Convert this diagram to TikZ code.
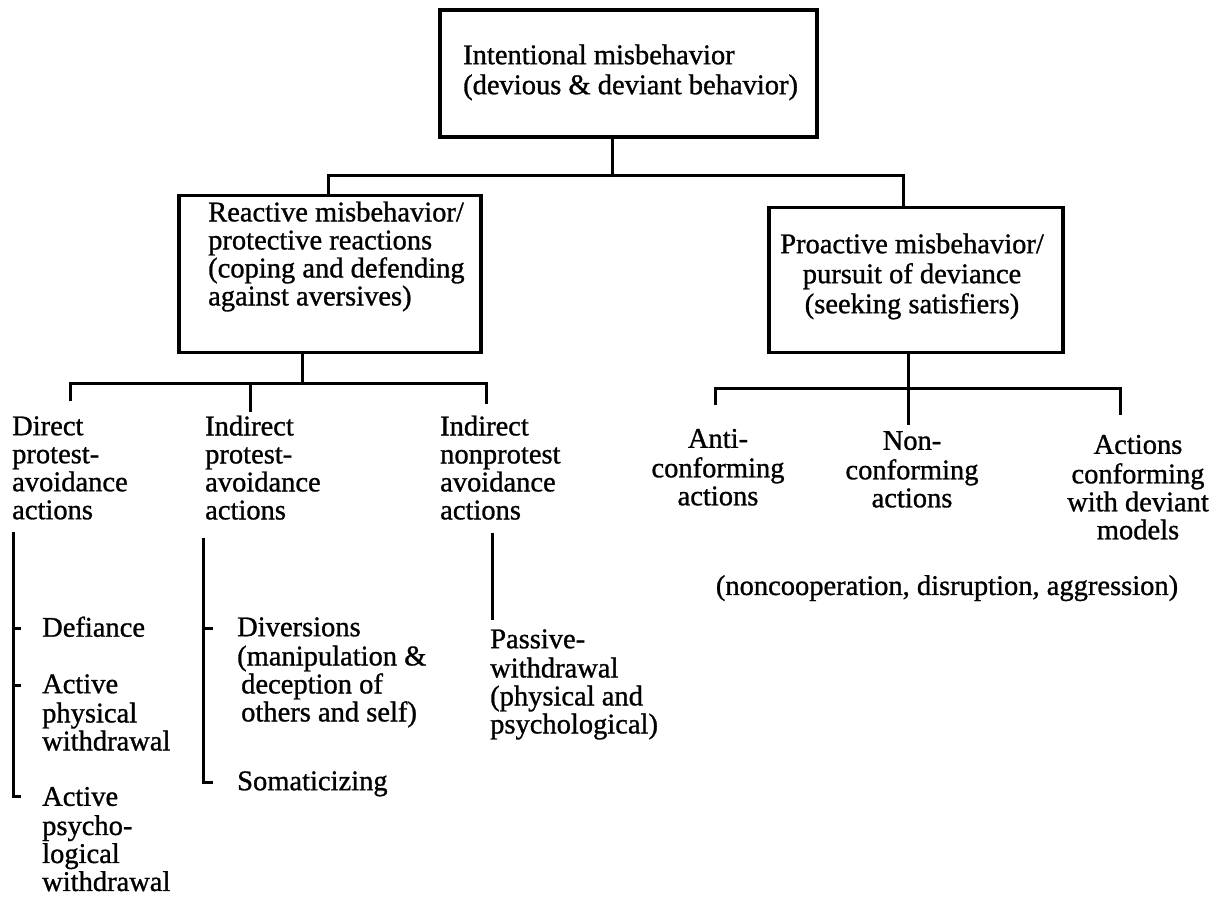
\documentclass[tikz,border=0pt]{standalone}
\usepackage{fontspec}
\setmainfont{Liberation Serif}[FakeBold=1]
\newcommand\dgfont{\fontsize{28.5}{28}\selectfont}
\newcommand\dgboxfont{\fontsize{28.5}{30}\selectfont}
\begin{document}
\begin{tikzpicture}[x=1pt,y=-1pt,
  box/.style={draw, line width=3.2pt, inner sep=0pt},
  link/.style={line width=3pt},
  ltxt/.style={inner sep=0pt, font=\dgfont, align=left, anchor=north west},
  ctxt/.style={inner sep=0pt, font=\dgfont, align=center, anchor=north},
  cboxtxt/.style={inner sep=0pt, font=\dgboxfont, align=center, anchor=north},
  lboxtxt/.style={inner sep=0pt, font=\dgboxfont, align=left, anchor=north west}]
\useasboundingbox (0,0) rectangle (1225,897);

% boxes
\node[box, minimum width=377pt, minimum height=127pt] (top) at (628.5,73.5) {};
\node[box, minimum width=302pt, minimum height=157pt] (react) at (330,274) {};
\node[box, minimum width=294pt, minimum height=145pt] (proact) at (916,280) {};

\node[lboxtxt] (toptxt) at (463,43) {\strut Intentional misbehavior\\(devious \& deviant behavior)};
\node[ltxt] (reacttxt) at (208,201.4) {\strut Reactive misbehavior/\\protective reactions\\(coping and defending\\against aversives)};
\node[cboxtxt] (proacttxt) at (912,232) {\strut Proactive misbehavior/\\pursuit of deviance\\(seeking satisfiers)};

% first level connectors
\coordinate (j0) at (612,175);
\coordinate (jl) at (328,175);
\coordinate (jr) at (903,175);
\draw[link] (top.south -| j0) -- (j0);
\draw[link] (react.north -| jl) -- (jl) -- (jr) -- (proact.north -| jr);

% reactive branch
\node[ltxt] (dpa) at (12,415.4) {\strut Direct\\protest-\\avoidance\\actions};
\node[ltxt] (ipa) at (205,415.4) {\strut Indirect\\protest-\\avoidance\\actions};
\node[ltxt] (ina) at (440,415.4) {\strut Indirect\\nonprotest\\avoidance\\actions};

\coordinate (j1) at (302,383);
\coordinate (d1) at (70,383);
\coordinate (d2) at (250,383);
\coordinate (d3) at (486,383);
\draw[link] (react.south -| j1) -- (j1);
\draw[link] (70,401) -- (d1) -- (d3) -- (486,404);
\draw[link] (d2) -- (250,412);

% direct protest-avoidance items
\node[ltxt] (defi) at (42,616.4) {\strut Defiance};
\node[ltxt] (apw) at (42,673.4) {\strut Active\\physical\\withdrawal};
\node[ltxt] (apsw) at (42,786) {\strut Active\\psycho-\\logical\\withdrawal};
\coordinate (bl) at (13,532);
\draw[link] (bl) -- (13,796) -- (21,796);
\draw[link] (13,628) -- (21,628);
\draw[link] (13,685) -- (21,685);

% indirect protest-avoidance items
\node[ltxt] (divs) at (237,616.4) {\strut Diversions\\(manipulation \&\\\hspace*{4pt}deception of\\\hspace*{4pt}others and self)};
\node[ltxt] (soma) at (237,770.4) {\strut Somaticizing};
\coordinate (bm) at (203,538);
\draw[link] (bm) -- (203,782) -- (213,782);
\draw[link] (203,628) -- (213,628);

% indirect nonprotest item
\node[ltxt] (pasw) at (490,628.4) {\strut Passive-\\withdrawal\\(physical and\\psychological)};
\draw[link] (492,533) -- (492,620);

% proactive branch
\node[ctxt] (anti) at (718,428) {\strut Anti-\\conforming\\actions};
\node[ctxt] (nonc) at (912,430) {\strut Non-\\conforming\\actions};
\node[ctxt] (acdm) at (1138,434) {\strut Actions\\conforming\\with deviant\\models};
\node[ctxt] (coop) at (947,575) {\strut (noncooperation, disruption, aggression)};

\coordinate (j2) at (908,388);
\draw[link] (proact.south -| j2) -- (j2) -- (908,425);
\draw[link] (715,405) -- (715,388) -- (1120,388) -- (1120,415);
\end{tikzpicture}
\end{document}
